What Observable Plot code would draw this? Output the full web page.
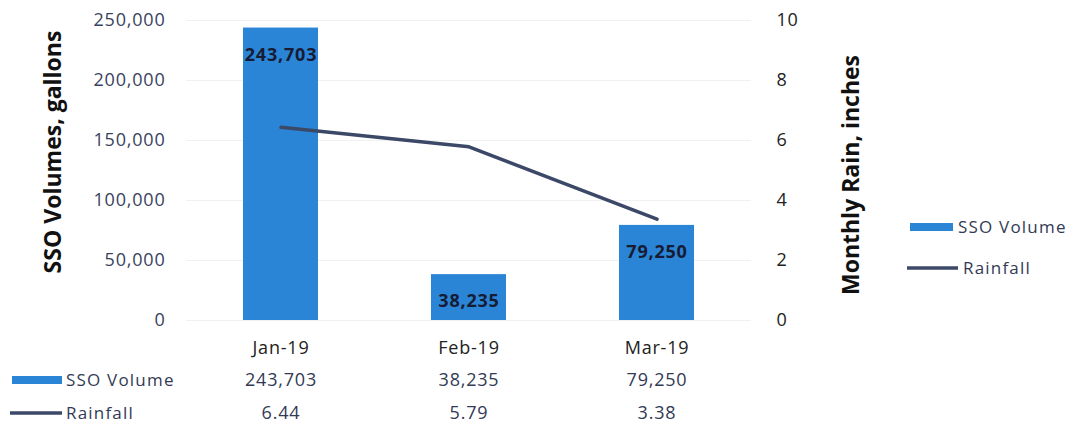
<!DOCTYPE html>
<html>
<head>
<meta charset="utf-8">
<script src="https://cdn.jsdelivr.net/npm/d3@7"></script>
<script src="https://cdn.jsdelivr.net/npm/@observablehq/plot@0.6"></script>
<style>
  html, body { margin: 0; padding: 0; background: #fff; }
  #chart svg { font-family: "Open Sans", sans-serif; display: block; letter-spacing: 0.8px; }
</style>
</head>
<body>
<div id="chart"></div>
<script>
const months = ["Jan-19", "Feb-19", "Mar-19"];
const ssoVolume = [243703, 38235, 79250];
const rainfall = [6.44, 5.79, 3.38];
const volumeTicks = [0, 50000, 100000, 150000, 200000, 250000];
const rainTicks = [0, 2, 4, 6, 8, 10];
const legendLabels = ["SSO Volume", "Rainfall"];
const axisTitles = ["SSO Volumes, gallons", "Monthly Rain, inches"];

const volMax = 250000, rainMax = 10;
const k = volMax / rainMax; // maps rain onto the volume scale (secondary axis)

const data = months.map((m, i) => ({ month: m, sso: ssoVolume[i], rain: rainfall[i] }));
const fmt = d3.format(",");
const blue = "#2b85d7";
const lineColor = "#3c4867";

const plot = Plot.plot({
  width: 1082,
  height: 432,
  marginTop: 20,
  marginBottom: 112,
  marginLeft: 186,
  marginRight: 331,
  style: { fontSize: "18px", fontFamily: "Open Sans, sans-serif", background: "#fff" },
  x: { domain: months, paddingInner: 0.6, paddingOuter: 0.3, axis: null },
  y: { domain: [0, volMax], axis: null },
  marks: [
    Plot.ruleY(volumeTicks, { stroke: "#f1f1f1", strokeWidth: 1 }),
    Plot.barY(data, { x: "month", y: "sso", fill: blue }),
    Plot.text(data, { x: "month", y: "sso", text: d => fmt(d.sso), dy: 27, fontWeight: "bold", fill: "#151c33", fontSize: 18 }),
    Plot.line(data, { x: "month", y: d => d.rain * k, stroke: lineColor, strokeWidth: 3.5 }),
    Plot.axisY(volumeTicks, {
      anchor: "left", tickSize: 0, tickPadding: 21, tickFormat: fmt, fill: "#3a425e", label: null
    }),
    Plot.axisY(rainTicks.map(t => t * k), {
      anchor: "right", tickSize: 0, tickPadding: 25, tickFormat: d => d / k, fill: "#222", label: null
    }),
    // data table beneath the chart
    Plot.text(months, { x: d => d, y: () => 0, dy: 28, text: d => d, fill: "#222" }),
    Plot.text(data, { x: "month", y: () => 0, dy: 60, text: d => fmt(d.sso), fill: "#333a55" }),
    Plot.text(data, { x: "month", y: () => 0, dy: 93, text: d => d.rain.toFixed(2), fill: "#333a55" })
  ]
});

document.getElementById("chart").appendChild(plot);

const svg = d3.select(plot);
// axis titles
const t = svg.append("g").attr("font-family", "Open Sans, sans-serif").attr("font-size", 23)
  .attr("font-weight", "bold").attr("fill", "#111").attr("text-anchor", "middle").attr("letter-spacing", "0px");
t.append("text").attr("transform", "translate(53,152) rotate(-90)").attr("dy", "0.35em").text(axisTitles[0]);
t.append("text").attr("transform", "translate(851,175) rotate(-90)").attr("dy", "0.35em").text(axisTitles[1]);

// legends (table row keys and side legend)
const g = svg.append("g").attr("font-family", "Open Sans, sans-serif").attr("font-size", 17)
  .attr("fill", "#333a55").attr("text-anchor", "start").attr("letter-spacing", "1.2px");
[[380, 0], [413, 1]].forEach(([y, i]) => {
  if (i === 0) g.append("rect").attr("x", 12).attr("y", y - 4).attr("width", 50).attr("height", 8).attr("fill", blue);
  else g.append("line").attr("x1", 10).attr("x2", 62).attr("y1", y).attr("y2", y).attr("stroke", lineColor).attr("stroke-width", 3.5);
  g.append("text").attr("x", 66).attr("y", y).attr("dy", "0.35em").text(legendLabels[i]);
});
[[227, 0], [268, 1]].forEach(([y, i]) => {
  if (i === 0) g.append("rect").attr("x", 910).attr("y", y - 4).attr("width", 43).attr("height", 8).attr("fill", blue);
  else g.append("line").attr("x1", 907).attr("x2", 958).attr("y1", y).attr("y2", y).attr("stroke", lineColor).attr("stroke-width", 3.5);
  g.append("text").attr("x", i === 0 ? 958 : 963).attr("y", y).attr("dy", "0.35em").text(legendLabels[i]);
});
</script>
</body>
</html>
